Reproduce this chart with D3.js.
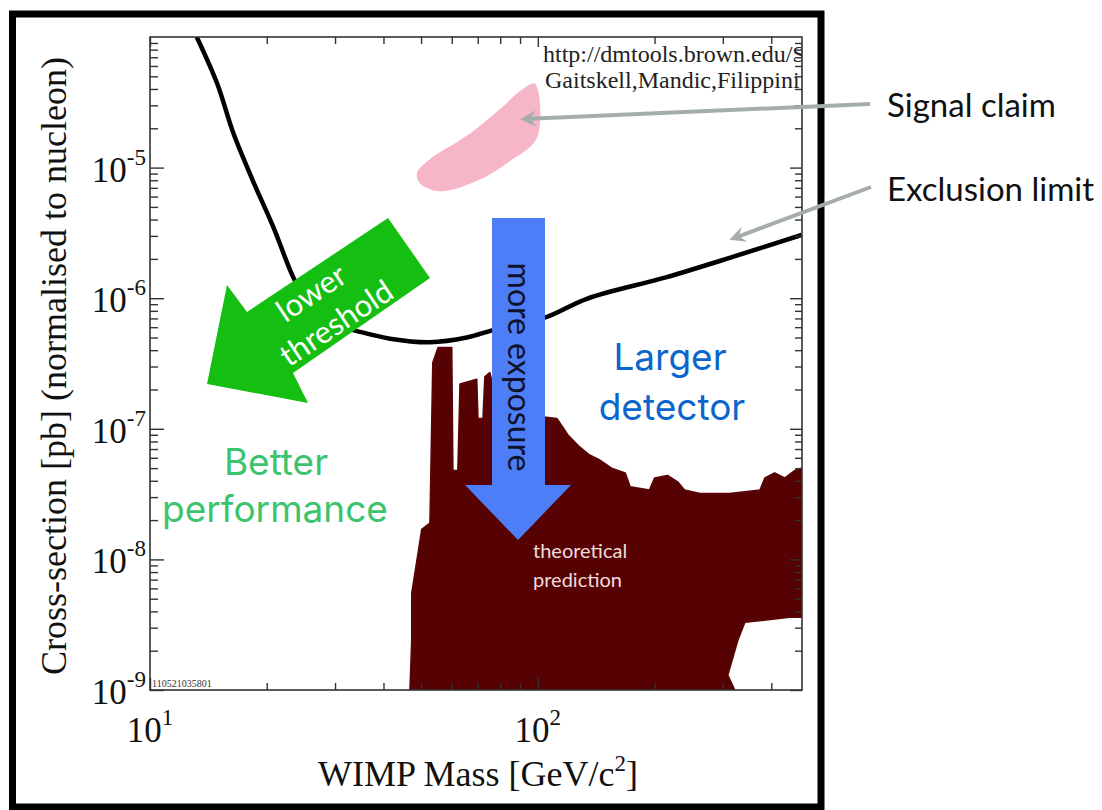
<!DOCTYPE html>
<html>
<head>
<meta charset="utf-8">
<script src="https://cdn.jsdelivr.net/npm/d3@7"></script>
<style>
  html, body { margin: 0; padding: 0; background: #fff; }
  svg { display: block; }
</style>
</head>
<body>
<svg></svg>
<script>
(function () {
  'use strict';

  // exclusion limit (black line), WIMP mass in GeV, cross-section in pb
  var limitMass  = [13.2, 14.9, 16.4, 18.4, 20.8, 23.4, 25.1, 27.8, 30.9, 34.2, 41.6, 52.7, 65.6, 76.6, 105.5, 133.8, 215, 318, 479];
  var limitSigma = [1.0e-4, 4.4e-5, 1.84e-5, 8.0e-6, 3.5e-6, 1.45e-6, 1.0e-6, 7.3e-7, 6.1e-7, 5.6e-7, 4.9e-7, 4.6e-7, 5.0e-7, 5.7e-7, 7.2e-7, 9.9e-7, 1.45e-6, 2.07e-6, 3.05e-6];

  // signal claim (pink blob outline)
  var signalMass  = [98.2, 99.6, 84.7, 69.6, 55.9, 49.6, 48.8, 52.7, 65.6, 79.8, 91.5];
  var signalSigma = [4.4e-5, 1.7e-5, 1.12e-5, 7.9e-6, 6.6e-6, 7.6e-6, 9.1e-6, 1.16e-5, 1.75e-5, 2.8e-5, 4.0e-5];

  // theoretical prediction (dark region outline)
  var theoryMass  = [46.8, 47.3, 47.3, 50.2, 52.7, 53.6, 55.3, 60.0, 60.4, 62.2, 63.0, 69.6, 70.1, 72.2, 73.0, 75.2,
                     78, 104, 112, 116, 119.5, 128, 136, 144, 155, 168, 173, 194, 200, 216, 230, 239, 262, 312,
                     374, 385, 408, 433, 460, 479, 479, 446, 342, 328, 309, 322];
  var theorySigma = [1e-9, 2.4e-9, 5.5e-9, 1.7e-8, 1.9e-8, 3.2e-7, 4.2e-7, 4.2e-7, 4.8e-8, 4.8e-8, 2.2e-7, 2.4e-7, 1.2e-7, 1.2e-7, 2.5e-7, 2.7e-7,
                     1.7e-7, 1.23e-7, 1.2e-7, 1.03e-7, 9.0e-8, 7.3e-8, 6.3e-8, 5.8e-8, 5.0e-8, 4.6e-8, 3.6e-8, 3.4e-8, 4.2e-8, 4.4e-8, 3.9e-8, 3.4e-8, 3.2e-8, 3.2e-8,
                     3.4e-8, 4.2e-8, 4.6e-8, 4.2e-8, 4.8e-8, 5.0e-8, 3.6e-9, 3.6e-9, 3.3e-9, 2.4e-9, 1.3e-9, 1e-9];

  var xMajor = [10, 100];
  var xMinor = [20, 30, 40, 50, 60, 70, 80, 90, 200, 300, 400];
  var yExponents = [-9, -8, -7, -6, -5];
  var xExponents = [1, 2];

  // annotation pointer targets (mass, sigma)
  var signalTip = [90, 2.35e-5];
  var limitTip = [312, 2.8e-6];

  var W = 1102, H = 810;
  var left = 150, right = 802, top = 37, bottom = 690;

  var svg = d3.select('svg')
      .attr('width', W)
      .attr('height', H)
      .style('font-family', 'Liberation Serif, serif');

  svg.append('rect')
      .attr('width', W)
      .attr('height', H)
      .attr('fill', '#fff');

  var x = d3.scaleLog().domain([10, 480]).range([left, right]);
  var y = d3.scaleLog().domain([1e-9, 1e-4]).range([bottom, top]);

  svg.append('clipPath')
      .attr('id', 'plotclip')
    .append('rect')
      .attr('x', left)
      .attr('y', top)
      .attr('width', right - left)
      .attr('height', bottom - top);

  var plot = svg.append('g').attr('clip-path', 'url(#plotclip)');

  function line (curve) {
    return d3.line()
      .x(function (d) { return x(d[0]); })
      .y(function (d) { return y(d[1]); })
      .curve(curve);
  }

  // theoretical prediction
  plot.append('path')
      .datum(d3.zip(theoryMass, theorySigma))
      .attr('d', line(d3.curveLinear))
      .attr('fill', '#560202')
      .attr('stroke', '#5a0608')
      .attr('stroke-width', 1.5)
      .attr('stroke-linejoin', 'round');

  // signal claim
  plot.append('path')
      .datum(d3.zip(signalMass, signalSigma))
      .attr('d', line(d3.curveCatmullRomClosed))
      .attr('fill', '#f6b6c8');

  // exclusion limit
  plot.append('path')
      .datum(d3.zip(limitMass, limitSigma))
      .attr('d', line(d3.curveCatmullRom))
      .attr('fill', 'none')
      .attr('stroke', '#000')
      .attr('stroke-width', 4.5);

  // credit text, clipped by the plot box
  plot.append('text')
      .attr('x', 543)
      .attr('y', 62)
      .style('font-size', '24px')
      .attr('fill', '#222')
      .text('http://dmtools.brown.edu/S');
  plot.append('text')
      .attr('x', 545)
      .attr('y', 88)
      .style('font-size', '24px')
      .attr('fill', '#222')
      .text('Gaitskell,Mandic,Filippini');

  plot.append('text')
      .attr('x', 152)
      .attr('y', 687)
      .style('font-size', '10px')
      .attr('fill', '#333')
      .text('110521035801');

  // ticks, inward on all four sides
  var yMinor = [];
  yExponents.forEach(function (e) {
    for (var k = 2; k <= 9; k++) yMinor.push(k * Math.pow(10, e));
  });
  var yMajor = yExponents.map(function (e) { return Math.pow(10, e); });

  function ticks (axis, values, size, tx, ty) {
    svg.append('g')
        .attr('transform', 'translate(' + tx + ',' + ty + ')')
        .call(axis.tickValues(values).tickSize(-size).tickFormat(''))
        .call(function (g) {
          g.select('.domain').remove();
          g.selectAll('line').attr('stroke', '#333').attr('stroke-width', 1.4);
        });
  }

  ticks(d3.axisLeft(y), yMinor, 8, left, 0);
  ticks(d3.axisLeft(y), yMajor, 14, left, 0);
  ticks(d3.axisRight(y), yMinor, 7, right, 0);
  ticks(d3.axisRight(y), yMajor, 12, right, 0);
  ticks(d3.axisTop(x), xMinor, 7, 0, top);
  ticks(d3.axisTop(x), xMajor, 10, 0, top);
  ticks(d3.axisBottom(x), xMinor, 7, 0, bottom);
  ticks(d3.axisBottom(x), xMajor, 12, 0, bottom);

  svg.append('rect')
      .attr('x', left)
      .attr('y', top)
      .attr('width', right - left)
      .attr('height', bottom - top)
      .attr('fill', 'none')
      .attr('stroke', '#333')
      .attr('stroke-width', 1.6);

  // tick labels
  var yLabels = svg.selectAll('.ylab')
      .data(yExponents)
      .enter()
      .append('text')
      .attr('class', 'ylab')
      .attr('x', 146)
      .attr('y', function (d) { return y(Math.pow(10, d)) + 14; })
      .attr('text-anchor', 'end')
      .style('font-size', '35px')
      .attr('fill', '#111');
  yLabels.append('tspan').text('10');
  yLabels.append('tspan')
      .attr('dy', -17)
      .style('font-size', '23px')
      .text(function (d) { return '-' + (-d); });

  var xLabels = svg.selectAll('.xlab')
      .data(xExponents)
      .enter()
      .append('text')
      .attr('class', 'xlab')
      .attr('x', function (d) { return x(Math.pow(10, d)); })
      .attr('y', 742)
      .attr('text-anchor', 'middle')
      .style('font-size', '35px')
      .attr('fill', '#111');
  xLabels.append('tspan').text('10');
  xLabels.append('tspan')
      .attr('dy', -17)
      .style('font-size', '23px')
      .text(function (d) { return d; });

  // axis titles
  var xt = svg.append('text')
      .attr('x', 478)
      .attr('y', 786)
      .attr('text-anchor', 'middle')
      .style('font-size', '36px')
      .attr('fill', '#111');
  xt.append('tspan').text('WIMP Mass [GeV/c');
  xt.append('tspan').attr('dy', -15).style('font-size', '23px').text('2');
  xt.append('tspan').attr('dy', 15).text(']');

  svg.append('text')
      .attr('transform', 'translate(66,366) rotate(-90)')
      .attr('text-anchor', 'middle')
      .style('font-size', '36px')
      .attr('fill', '#111')
      .text('Cross-section [pb] (normalised to nucleon)');

  // outer frame
  svg.append('rect')
      .attr('x', 12.5)
      .attr('y', 14)
      .attr('width', 808.5)
      .attr('height', 793)
      .attr('fill', 'none')
      .attr('stroke', '#000')
      .attr('stroke-width', 7);

  // green arrow: lower threshold
  var greenArrow = [[388, 218], [430, 278], [293, 373], [308, 403], [207, 384], [227, 285], [247, 312]];
  svg.append('path')
      .attr('d', 'M' + greenArrow.join('L') + 'Z')
      .attr('fill', '#14bf12');

  var g1 = svg.append('g')
      .attr('transform', 'translate(325,310) rotate(-33.7)')
      .style('font-family', 'Lato, sans-serif')
      .style('font-size', '31px')
      .attr('fill', '#fff')
      .attr('text-anchor', 'middle');
  g1.append('text').attr('x', -2).attr('y', -11).text('lower');
  g1.append('text').attr('x', 2).attr('y', 28).text('threshold');

  // blue arrow: more exposure
  var blueArrow = [[492, 218], [545, 218], [545, 485], [571, 485], [518, 540], [465, 485], [492, 485]];
  svg.append('path')
      .attr('d', 'M' + blueArrow.join('L') + 'Z')
      .attr('fill', '#4d7ef8');

  svg.append('text')
      .attr('transform', 'translate(508,367) rotate(90)')
      .attr('text-anchor', 'middle')
      .style('font-family', 'Lato, sans-serif')
      .style('font-size', '32px')
      .attr('fill', '#10122a')
      .text('more exposure');

  // region labels
  var lg = svg.append('text')
      .attr('text-anchor', 'middle')
      .style('font-family', 'Inter, sans-serif')
      .style('font-size', '37px')
      .attr('fill', '#0a66cc');
  lg.append('tspan').attr('x', 670).attr('y', 370).text('Larger');
  lg.append('tspan').attr('x', 672).attr('y', 420).text('detector');

  var bp = svg.append('text')
      .attr('text-anchor', 'middle')
      .style('font-family', 'Inter, sans-serif')
      .style('font-size', '37px')
      .attr('fill', '#3cc36e');
  bp.append('tspan').attr('x', 276).attr('y', 475).text('Better');
  bp.append('tspan').attr('x', 275).attr('y', 522).text('performance');

  var tp = svg.append('text')
      .style('font-family', 'Lato, sans-serif')
      .style('font-size', '20px')
      .attr('fill', '#f0dcdc');
  tp.append('tspan').attr('x', 533).attr('y', 558).text('theoretical');
  tp.append('tspan').attr('x', 533).attr('y', 587).text('prediction');

  // callouts
  function pointer (x1, y1, tip) {
    var x2 = x(tip[0]), y2 = y(tip[1]);
    var a = Math.atan2(y2 - y1, x2 - x1);
    var len = 16, half = 8, notch = 10;
    function pt (d, o) {
      return [x2 - d * Math.cos(a) - o * Math.sin(a), y2 - d * Math.sin(a) + o * Math.cos(a)];
    }
    svg.append('line')
        .attr('x1', x1).attr('y1', y1)
        .attr('x2', pt(notch, 0)[0]).attr('y2', pt(notch, 0)[1])
        .attr('stroke', '#a4acac')
        .attr('stroke-width', 4);
    svg.append('path')
        .attr('d', 'M' + [[x2, y2], pt(len, half), pt(notch, 0), pt(len, -half)].join('L') + 'Z')
        .attr('fill', '#a4acac');
  }
  pointer(870, 104, signalTip);
  pointer(871, 187, limitTip);

  var notes = svg.append('g')
      .style('font-family', 'Lato, sans-serif')
      .style('font-size', '33px')
      .attr('fill', '#111');
  notes.append('text').attr('x', 887).attr('y', 117).text('Signal claim');
  notes.append('text').attr('x', 887).attr('y', 201).text('Exclusion limit');
} ());
</script>
</body>
</html>
